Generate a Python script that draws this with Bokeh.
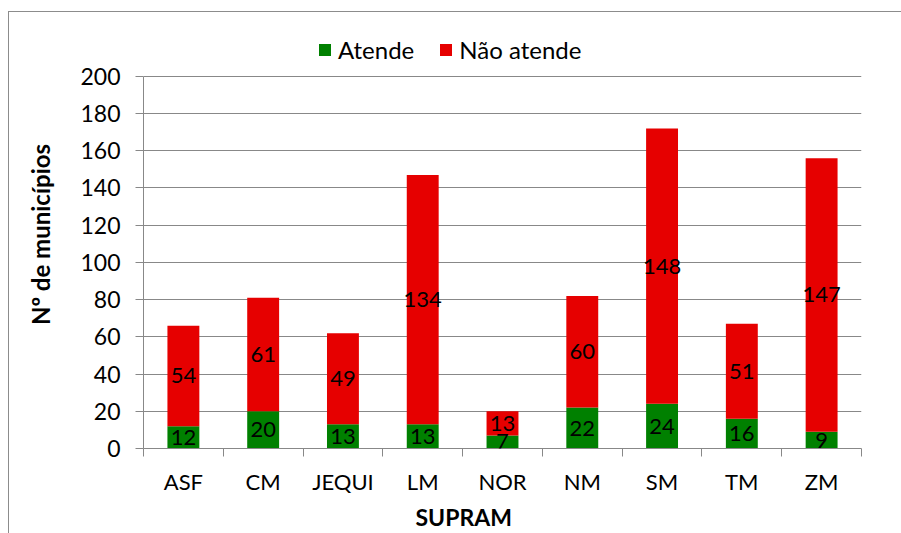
from bokeh.plotting import figure
from bokeh.core.properties import value
from bokeh.models import (ColumnDataSource, FactorRange, Range1d, LinearAxis, Title,
                          CategoricalAxis, FixedTicker, Legend, LegendItem, LabelSet)
from bokeh.embed import file_html
from bokeh.resources import INLINE

# ---- data ----
categories = ["ASF", "CM", "JEQUI", "LM", "NOR", "NM", "SM", "TM", "ZM"]
atende = [12, 20, 13, 13, 7, 22, 24, 16, 9]
nao_atende = [54, 61, 49, 134, 13, 60, 148, 51, 147]
series_names = ["Atende", "Não atende"]
series_colors = ["#008000", "#e60000"]
y_ticks = [0, 20, 40, 60, 80, 100, 120, 140, 160, 180, 200]
x_title = "SUPRAM"
y_title = "Nº de municípios"

FONT = "Lato"
GREY = "#888888"

src = ColumnDataSource(dict(
    cat=categories,
    atende=atende,
    nao=nao_atende,
    mid_at=[a / 2 for a in atende],
    mid_nao=[a + n / 2 for a, n in zip(atende, nao_atende)],
    lab_at=[str(a) for a in atende],
    lab_nao=[str(n) for n in nao_atende],
))

# extra headroom above 200 holds the legend inside the frame
p = figure(x_range=FactorRange(factors=categories), y_range=Range1d(0, 230),
           width=901, height=533, output_backend="svg", toolbar_location=None,
           x_axis_location=None)
p.min_border_left = 143
p.min_border_right = 40
p.min_border_top = 20
p.min_border_bottom = 84
p.outline_line_color = None
p.background_fill_color = None
p.border_fill_color = None
p.styles = {
    "background": ("linear-gradient(#8c8c8c, #8c8c8c) 8px 11px / 1px 100% no-repeat, "
                   "linear-gradient(#8c8c8c, #8c8c8c) 8px 11px / 100% 1px no-repeat, white"),
}

renderers = p.vbar_stack(["atende", "nao"], x="cat", width=0.4, color=series_colors,
                         line_color=None, source=src)

# labels centred in each segment
for ycol, tcol in (("mid_at", "lab_at"), ("mid_nao", "lab_nao")):
    p.add_layout(LabelSet(x="cat", y=ycol, text=tcol, source=src, text_align="center",
                          text_baseline="middle", text_font=value(FONT), text_font_size="22px",
                          text_color="black"))

# y axis
p.yaxis.ticker = FixedTicker(ticks=y_ticks)
p.yaxis.bounds = (0, 200)
p.yaxis.major_tick_out = 8
p.yaxis.major_tick_in = 0
p.yaxis.minor_tick_line_color = None
p.yaxis.axis_line_color = GREY
p.yaxis.major_tick_line_color = GREY
p.yaxis.major_label_text_font = FONT
p.yaxis.major_label_text_font_size = "23px"
p.yaxis.major_label_text_color = "black"
p.yaxis.major_label_standoff = 15
p.yaxis.axis_label = y_title
p.yaxis.axis_label_text_font = FONT
p.yaxis.axis_label_text_font_size = "24px"
p.yaxis.axis_label_text_font_style = "bold"
p.yaxis.axis_label_text_color = "black"
p.yaxis.axis_label_standoff = 22

p.ygrid.ticker = FixedTicker(ticks=y_ticks)
p.ygrid.grid_line_color = GREY
p.ygrid.grid_line_width = 1
p.xgrid.visible = False

# x axis: ticks on the category boundaries (synthetic coordinates 0..n)
edge_ticks = list(range(len(categories) + 1))
edge_axis = LinearAxis(ticker=FixedTicker(ticks=edge_ticks),
                       major_tick_out=8, major_tick_in=0, minor_tick_line_color=None,
                       axis_line_color=GREY, major_tick_line_color=GREY,
                       major_label_overrides={t: "" for t in edge_ticks},
                       major_label_text_font_size="1px", major_label_standoff=0)
p.add_layout(edge_axis, "below")

cat_axis = CategoricalAxis(axis_line_color=None, major_tick_line_color=None,
                           major_tick_out=0, major_tick_in=0, major_label_standoff=11,
                           major_label_text_font=FONT, major_label_text_font_size="22px",
                           major_label_text_color="black")
p.add_layout(cat_axis, "below")

# x title, placed like the reference (centred on the whole chart, not the plot area)
p.add_layout(Title(text=x_title, align="left", offset=272, standoff=6,
                   text_font=FONT, text_font_size="23px", text_font_style="bold",
                   text_color="black"), "below")

legend = Legend(items=[LegendItem(label=series_names[i], renderers=[renderers[i]]) for i in range(2)],
                location=(174, 384), orientation="horizontal", glyph_width=15, glyph_height=15,
                label_standoff=6, spacing=24, padding=0, margin=0,
                background_fill_alpha=0, border_line_color=None,
                label_text_font=FONT, label_text_font_size="24px", label_text_color="black")
p.add_layout(legend)

open("out.html", "w").write(file_html(p, INLINE))
